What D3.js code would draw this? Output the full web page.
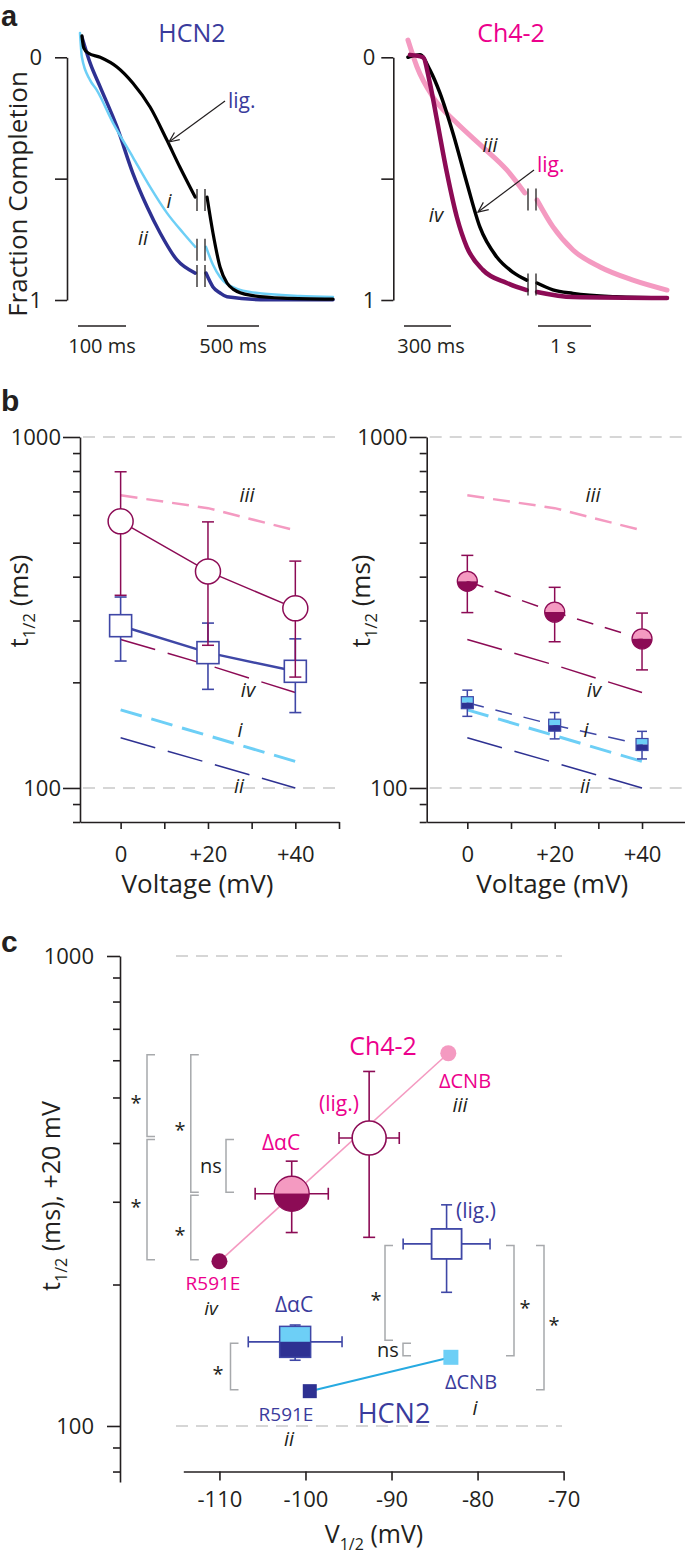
<!DOCTYPE html>
<html><head><meta charset="utf-8">
<script src="https://cdn.jsdelivr.net/npm/d3@7"></script>
<style>body{margin:0;background:#fff}svg{display:block}</style>
</head><body>
<script>
// ================= DATA =================
// Panel a: normalized traces [time (ms), fraction completion]; A = before axis break, B = after break (time since break)
const hcn2LigA = [[4,-0.088],[8,-0.038],[17,-0.018],[42,0.0],[77,0.04],[110,0.106],[146,0.205],[181,0.341],[208,0.452],[240,0.576]];
const hcn2LigB = [[10,0.576],[67,0.724],[135,0.864],[202,0.93],[260,0.955],[423,0.98],[740,0.992],[1221,0.996]];
const hcn2IA = [[0,-0.1],[4,0.0],[21,0.094],[35,0.135],[69,0.271],[110,0.411],[146,0.534],[181,0.641],[215,0.724],[240,0.781]];
const hcn2IB = [[0,0.781],[67,0.855],[135,0.905],[202,0.934],[423,0.967],[904,0.984],[1221,0.988]];
const hcn2IIA = [[4,-0.084],[21,0.023],[42,0.122],[77,0.287],[110,0.477],[140,0.617],[167,0.724],[202,0.835],[240,0.889]];
const hcn2IIB = [[0,0.889],[67,0.946],[135,0.971],[202,0.987],[587,0.999],[1221,0.999]];
const ch42IIIA = [[6,-0.071],[64,0.04],[166,0.164],[318,0.271],[484,0.37],[637,0.464],[752,0.559]];
const ch42IIIB = [[0,0.588],[302,0.699],[679,0.794],[1189,0.864],[1811,0.918],[2453,0.959]];
const ch42LigA = [[6,0.0],[83,-0.01],[146,0.052],[210,0.147],[293,0.312],[382,0.518],[465,0.699],[573,0.823],[675,0.885],[764,0.918]];
const ch42LigB = [[0,0.93],[300,0.958],[679,0.973],[1500,0.987],[2453,0.992]];
const ch42IVA = [[19,-0.01],[102,0.0],[146,0.106],[191,0.258],[255,0.477],[318,0.658],[382,0.782],[484,0.876],[637,0.93],[764,0.959]];
const ch42IVB = [[0,0.967],[679,0.988],[2453,0.992]];

// Panel b: t1/2 (ms) vs voltage (mV), mean and SEM
const voltages = [0, 20, 40];
const ch42LigT = [575, 414, 325], ch42LigSem = [221, 159, 118];
const hcn2LigT = [290, 243, 215], hcn2LigSem = [60, 52, 51];
const ch42DacT = [388, 317, 266], ch42DacSem = [72, 56, 49];
const hcn2DacT = [175, 151, 133], hcn2DacSem = [15, 13, 12];
const refIII = [682, 627, 542];
const refIV = [265, 224, 187];
const refI = [167, 141, 119];
const refII = [139, 118, 100];
const yTicksB = [80, 90, 100, 200, 300, 400, 500, 600, 700, 800, 900, 1000];
const yLabelsB = [100, 1000];
const xTicksB = [0, 10, 20, 30, 40, 50];
const xLabelsB = {0: "0", 20: "+20", 40: "+40"};

// Panel c: t1/2 at +20 mV vs V1/2 ; order: R591E, ΔαC, lig., ΔCNB
const ch42V = [-110.0, -101.6, -92.6, -83.4];
const ch42VSem = [0, 4.25, 3.5, 0];
const ch42T20 = [224, 312, 410, 621];
const ch42T20Sem = [0, 54, 158, 0];
const hcn2V = [-99.5, -101.2, -83.6, -83.1];
const hcn2VSem = [0, 5.45, 5.05, 0];
const hcn2T20 = [118.6, 151, 244, 140];
const hcn2T20Sem = [0, 13, 51.5, 0];
const xTicksC = [-110, -100, -90, -80, -70];
const yTicksC = [80, 90, 100, 200, 300, 400, 500, 600, 700, 800, 900, 1000];
const yLabelsC = [100, 1000];
// significance comparisons: [index a, index b, label]
const ch42Brackets = [[3, 2, "*"], [2, 0, "*"], [3, 1, "*"], [1, 0, "*"], [2, 1, "ns"]];
const hcn2Brackets = [[2, 1, "*"], [1, 3, "ns"], [2, 3, "*"], [2, 0, "*"], [1, 0, "*"]];

// ================= STYLE =================
const FONT = "'Open Sans', 'Noto Sans', sans-serif";
const INK = "#231f20", DBLUE = "#2e3192", LBLUE = "#6dcff6", MAG = "#8c0b55", PINK = "#f49ac1",
      HOT = "#ec008c", GRAY = "#a7a9ac", GRID = "#c9c9c9", CYAN = "#27aae1", TBLUE = "#3a3b9c", LINEBLUE = "#3f47a6";

const svg = d3.select("body").append("svg").attr("width", 685).attr("height", 1554);

function txt(x, y, s, o = {}) {
  const t = svg.append("text").attr("x", x).attr("y", y).text(s)
    .attr("font-family", o.family || FONT).attr("font-size", o.size || 20)
    .attr("fill", o.color || INK).attr("text-anchor", o.anchor || "middle");
  if (o.italic) t.attr("font-style", "italic");
  if (o.weight) t.attr("font-weight", o.weight);
  return t;
}
function subTitle(x, y, parts, size, rotate) {
  const g = svg.append("g").attr("transform", `translate(${x},${y})` + (rotate ? " rotate(-90)" : ""));
  const t = g.append("text").attr("text-anchor", "middle").attr("font-family", FONT)
    .attr("font-size", size).attr("fill", INK);
  let shift = 0;
  parts.forEach(p => {
    const sp = t.append("tspan").text(p.t);
    if (p.sub) { sp.attr("font-size", size * 0.64).attr("dy", size * 0.26); shift = size * 0.26; }
    else if (shift) { sp.attr("dy", -shift); shift = 0; }
  });
}
function line(x1, y1, x2, y2, color, w, dash) {
  const l = svg.append("line").attr("x1", x1).attr("y1", y1).attr("x2", x2).attr("y2", y2)
    .attr("stroke", color).attr("stroke-width", w);
  if (dash) l.attr("stroke-dasharray", dash);
  return l;
}
function styleAxis(g, size) {
  g.attr("font-family", FONT).attr("font-size", size);
  g.selectAll("path, line").attr("stroke", INK).attr("stroke-width", 1.6);
  g.selectAll("text").attr("fill", INK);
}

// ================= PANEL a =================
txt(1, 26, "a", {family: "'Liberation Sans', Arial, sans-serif", size: 29, weight: "bold", anchor: "start"});
const yA = d3.scaleLinear().domain([0, 1]).range([57.3, 300]);
const xAL1 = d3.scaleLinear().domain([0, 100]).range([80, 128]);
const xAL2 = d3.scaleLinear().domain([0, 500]).range([206, 258]);
const xAR1 = d3.scaleLinear().domain([0, 300]).range([407, 454]);
const xAR2 = d3.scaleLinear().domain([0, 1000]).range([537, 590]);

function yAxisA(x, pad) {
  const g = svg.append("g").attr("transform", `translate(${x},0)`)
    .call(d3.axisLeft(yA).tickValues([0, 0.5, 1]).tickSize(12).tickSizeOuter(0).tickPadding(pad)
      .tickFormat(d => d === 0.5 ? "" : d));
  styleAxis(g, 22);
}
yAxisA(67, 13);
yAxisA(393.3, 6);
subTitle(27, 194, [{t: "Fraction Completion"}], 26, true);

function drawTrace(data, xs, color, w) {
  svg.append("path").datum(data)
    .attr("d", d3.line().x(d => xs(d[0])).y(d => yA(d[1])).curve(d3.curveMonotoneX))
    .attr("fill", "none").attr("stroke", color).attr("stroke-width", w)
    .attr("stroke-linecap", "round").attr("stroke-linejoin", "round");
}
function breakMarks(xa, xb, A, B) {
  const yc = (yA(A[A.length - 1][1]) + yA(B[0][1])) / 2 + 3;
  line(xa, yc - 11, xa, yc + 11, INK, 1.3);
  line(xb, yc - 11, xb, yc + 11, INK, 1.3);
}
// left traces (HCN2)
drawTrace(hcn2IIA, xAL1, DBLUE, 3.5); drawTrace(hcn2IIB, xAL2, DBLUE, 3.5);
drawTrace(hcn2IA, xAL1, LBLUE, 2.5); drawTrace(hcn2IB, xAL2, LBLUE, 2.5);
drawTrace(hcn2LigA, xAL1, "#000", 3.2); drawTrace(hcn2LigB, xAL2, "#000", 3.2);
breakMarks(197, 205, hcn2LigA, hcn2LigB);
breakMarks(197, 205, hcn2IA, hcn2IB);
breakMarks(197, 205, hcn2IIA, hcn2IIB);
// right traces (Ch4-2)
drawTrace(ch42IIIA, xAR1, PINK, 5); drawTrace(ch42IIIB, xAR2, PINK, 5);
drawTrace(ch42LigA, xAR1, "#000", 3.5); drawTrace(ch42LigB, xAR2, "#000", 3.5);
drawTrace(ch42IVA, xAR1, MAG, 4.5); drawTrace(ch42IVB, xAR2, MAG, 4.5);
breakMarks(528, 536, ch42IIIA, ch42IIIB);
breakMarks(528, 536, ch42LigA, ch42LigB);

function arrow(x1, y1, x2, y2) {
  line(x1, y1, x2, y2, INK, 1.2);
  const a = Math.atan2(y2 - y1, x2 - x1), L = 11, s = 0.42;
  const p = [[x2 - L * Math.cos(a - s), y2 - L * Math.sin(a - s)], [x2, y2], [x2 - L * Math.cos(a + s), y2 - L * Math.sin(a + s)]];
  svg.append("path").attr("d", d3.line()(p)).attr("fill", "none").attr("stroke", INK).attr("stroke-width", 1.2);
}
arrow(225, 101, 169, 142);
arrow(534, 170, 478, 212);
txt(192, 42, "HCN2", {size: 25, color: TBLUE});
txt(511, 42, "Ch4-2", {size: 25, color: HOT});
txt(228, 108, "lig.", {size: 21, color: TBLUE, anchor: "start"});
txt(537, 172, "lig.", {size: 21, color: HOT, anchor: "start"});
txt(169, 208, "i", {size: 20, italic: true});
txt(143, 245, "ii", {size: 20, italic: true});
txt(490, 152, "iii", {size: 20, italic: true});
txt(436, 222, "iv", {size: 20, italic: true});
// scale bars
function scaleBar(x0, xs, val, label, lx) {
  line(x0, 326, x0 + xs(val) - xs(0), 326, INK, 1.5);
  txt(lx, 353, label, {size: 20});
}
scaleBar(78, xAL1, 100, "100 ms", 102);
scaleBar(207, xAL2, 500, "500 ms", 233);
scaleBar(404, xAR1, 300, "300 ms", 431);
scaleBar(538, xAR2, 1000, "1 s", 563);

// ================= PANEL b =================
txt(1, 411, "b", {family: "'Liberation Sans', Arial, sans-serif", size: 30, weight: "bold", anchor: "start"});
const yB = d3.scaleLog().domain([80, 1000]).range([822, 437]);
const xBL = d3.scaleLinear().domain([-9.3, 50]).range([80, 339]);
const xBR = d3.scaleLinear().domain([-9.3, 50]).range([426.7, 685.7]);

function panelBAxes(xs) {
  const x0 = xs.range()[0];
  yLabelsB.forEach(v => line(x0 + 3, yB(v), x0 + 260, yB(v), GRID, 1.3, "12,8"));
  const gy = svg.append("g").attr("transform", `translate(${x0},0)`)
    .call(d3.axisLeft(yB).tickValues(yTicksB).tickSize(17).tickSizeOuter(0).tickPadding(2)
      .tickFormat(d => yLabelsB.includes(d) ? d : ""));
  gy.selectAll(".tick line").attr("x2", d => yLabelsB.includes(d) ? -17 : -7);
  styleAxis(gy, 22);
  const gx = svg.append("g").attr("transform", `translate(0,${yB.range()[0]})`)
    .call(d3.axisBottom(xs).tickValues(xTicksB).tickSize(7).tickSizeOuter(0).tickPadding(17)
      .tickFormat(d => xLabelsB[d] || ""));
  styleAxis(gx, 22);
  txt((xs(-9.3) + xs(50)) / 2 - 12 + (x0 > 200 ? 8 : 0), 893, "Voltage (mV)", {size: 26});
}
panelBAxes(xBL);
panelBAxes(xBR);
subTitle(28, 601, [{t: "t"}, {t: "1/2", sub: true}, {t: " (ms)"}], 26, true);
subTitle(370, 601, [{t: "t"}, {t: "1/2", sub: true}, {t: " (ms)"}], 26, true);

function dashSeries(xs, vals, color, w, dash) {
  svg.append("path").datum(vals)
    .attr("d", d3.line().x((d, i) => xs(voltages[i])).y(d => yB(d)))
    .attr("fill", "none").attr("stroke", color).attr("stroke-width", w).attr("stroke-dasharray", dash);
}
function refLines(xs) {
  dashSeries(xs, refIII, PINK, 2.5, "17,9");
  dashSeries(xs, refIV, MAG, 1.5, "36,13");
  dashSeries(xs, refI, LBLUE, 3, "22,10");
  dashSeries(xs, refII, DBLUE, 1.5, "36,13");
}
refLines(xBL);
refLines(xBR);
function errBars(xs, vals, sems, color, w, cap) {
  vals.forEach((v, i) => {
    const x = xs(voltages[i]);
    line(x, yB(v + sems[i]), x, yB(v - sems[i]), color, w);
    line(x - cap / 2, yB(v + sems[i]), x + cap / 2, yB(v + sems[i]), color, w);
    line(x - cap / 2, yB(v - sems[i]), x + cap / 2, yB(v - sems[i]), color, w);
  });
}
// left: lig. data
errBars(xBL, hcn2LigT, hcn2LigSem, LINEBLUE, 1.6, 12);
svg.append("path").datum(hcn2LigT).attr("d", d3.line().x((d, i) => xBL(voltages[i])).y(d => yB(d)))
  .attr("fill", "none").attr("stroke", LINEBLUE).attr("stroke-width", 2.5);
hcn2LigT.forEach((v, i) => svg.append("rect").attr("x", xBL(voltages[i]) - 11).attr("y", yB(v) - 11)
  .attr("width", 22).attr("height", 22).attr("fill", "#fff").attr("stroke", LINEBLUE).attr("stroke-width", 1.6));
errBars(xBL, ch42LigT, ch42LigSem, MAG, 1.5, 12);
svg.append("path").datum(ch42LigT).attr("d", d3.line().x((d, i) => xBL(voltages[i])).y(d => yB(d)))
  .attr("fill", "none").attr("stroke", MAG).attr("stroke-width", 1.5);
ch42LigT.forEach((v, i) => svg.append("circle").attr("cx", xBL(voltages[i])).attr("cy", yB(v)).attr("r", 12.5)
  .attr("fill", "#fff").attr("stroke", MAG).attr("stroke-width", 1.5));

// right: ΔαC data
dashSeries(xBR, hcn2DacT, LINEBLUE, 1.5, "17,12");
errBars(xBR, hcn2DacT, hcn2DacSem, LINEBLUE, 1.5, 10);
hcn2DacT.forEach((v, i) => {
  const x = xBR(voltages[i]), y = yB(v);
  svg.append("rect").attr("x", x - 6).attr("y", y - 6).attr("width", 12).attr("height", 6).attr("fill", LBLUE);
  svg.append("rect").attr("x", x - 6).attr("y", y).attr("width", 12).attr("height", 6).attr("fill", DBLUE);
  svg.append("rect").attr("x", x - 6).attr("y", y - 6).attr("width", 12).attr("height", 12).attr("fill", "none").attr("stroke", LINEBLUE).attr("stroke-width", 1.2);
});
dashSeries(xBR, ch42DacT, MAG, 1.5, "17,12");
errBars(xBR, ch42DacT, ch42DacSem, MAG, 1.5, 12);
const halfTop = d3.arc().innerRadius(0).startAngle(-Math.PI / 2).endAngle(Math.PI / 2);
const halfBot = d3.arc().innerRadius(0).startAngle(Math.PI / 2).endAngle(3 * Math.PI / 2);
function halfCircle(x, y, r) {
  svg.append("path").attr("d", halfTop.outerRadius(r)()).attr("transform", `translate(${x},${y})`).attr("fill", PINK);
  svg.append("path").attr("d", halfBot.outerRadius(r)()).attr("transform", `translate(${x},${y})`).attr("fill", MAG);
  svg.append("circle").attr("cx", x).attr("cy", y).attr("r", r).attr("fill", "none").attr("stroke", MAG).attr("stroke-width", 1.3);
}
ch42DacT.forEach((v, i) => halfCircle(xBR(voltages[i]), yB(v), 10));

[[0, "iii", 502], [1, "iv", 697], [2, "i", 737], [3, "ii", 793]].forEach(([k, s, y]) => {
  const dx = [247, 248, 240, 239][k];
  txt(dx, y, s, {size: 20, italic: true});
  txt(dx + 346, y, s, {size: 20, italic: true});
});

// ================= PANEL c =================
txt(1, 952, "c", {family: "'Liberation Sans', Arial, sans-serif", size: 30, weight: "bold", anchor: "start"});
const yC = d3.scaleLog().domain([76, 1000]).range([1482, 956]);
const xC = d3.scaleLinear().domain([-114.2, -70]).range([183.3, 563.6]);
yLabelsC.forEach(v => line(176, yC(v), 562, yC(v), GRID, 1.3, "12,8"));
const gyc = svg.append("g").attr("transform", "translate(120,0)")
  .call(d3.axisLeft(yC).tickValues(yTicksC).tickSize(13).tickSizeOuter(0).tickPadding(13)
    .tickFormat(d => yLabelsC.includes(d) ? d : ""));
gyc.selectAll(".tick line").attr("x2", d => yLabelsC.includes(d) ? -13 : -7);
styleAxis(gyc, 22);
const gxc = svg.append("g").attr("transform", `translate(0,${yC(80)})`)
  .call(d3.axisBottom(xC).tickValues(xTicksC).tickSize(9).tickSizeOuter(0).tickPadding(11)
    .tickFormat(d => "-" + Math.abs(d)));
styleAxis(gxc, 22);
subTitle(60, 1196, [{t: "t"}, {t: "1/2", sub: true}, {t: " (ms),  +20 mV"}], 25, true);
subTitle(374, 1543, [{t: "V"}, {t: "1/2", sub: true}, {t: " (mV)"}], 25, false);

// significance brackets
function bracket(Ts, a, b, x, dir, label, lx) {
  const y1 = yC(Ts[a]), y2 = yC(Ts[b]);
  const top = Math.min(y1, y2) + 1.5, bot = Math.max(y1, y2) - 1.5;
  svg.append("path").attr("d", `M${x + dir * 8},${top}H${x}V${bot}H${x + dir * 8}`)
    .attr("fill", "none").attr("stroke", GRAY).attr("stroke-width", 1.5);
  const mid = (top + bot) / 2;
  if (label === "*") txt(lx, mid + 14, "*", {size: 20});
  else txt(lx, mid + 7, label, {size: 20});
}
const ch42BrX = [147, 147, 190.8, 190.8, 226];
const ch42BrLX = [136, 136, 180, 180, 211];
ch42Brackets.forEach((b, i) => bracket(ch42T20, b[0], b[1], ch42BrX[i], 1, b[2], ch42BrLX[i]));
const hcn2BrX = [385, 403, 514, 544, 230.5];
const hcn2BrDir = [1, 1, -1, -1, 1];
const hcn2BrLX = [376, 388, 525, 554, 218];
hcn2Brackets.forEach((b, i) => bracket(hcn2T20, b[0], b[1], hcn2BrX[i], hcn2BrDir[i], b[2], hcn2BrLX[i]));

// connecting lines
svg.append("line").attr("x1", xC(ch42V[0])).attr("y1", yC(ch42T20[0])).attr("x2", xC(ch42V[3])).attr("y2", yC(ch42T20[3]))
  .attr("stroke", PINK).attr("stroke-width", 1.6);
svg.append("line").attr("x1", xC(hcn2V[0])).attr("y1", yC(hcn2T20[0])).attr("x2", xC(hcn2V[3])).attr("y2", yC(hcn2T20[3]))
  .attr("stroke", CYAN).attr("stroke-width", 2);

function errC(V, VS, T, TS, i, color, w, cap) {
  const x = xC(V[i]), y = yC(T[i]);
  if (TS[i]) {
    const yt = yC(T[i] + TS[i]), yb = yC(T[i] - TS[i]);
    line(x, yt, x, yb, color, w); line(x - cap / 2, yt, x + cap / 2, yt, color, w); line(x - cap / 2, yb, x + cap / 2, yb, color, w);
  }
  if (VS[i]) {
    const xl = xC(V[i] - VS[i]), xr = xC(V[i] + VS[i]);
    line(xl, y, xr, y, color, w); line(xl, y - cap / 2, xl, y + cap / 2, color, w); line(xr, y - cap / 2, xr, y + cap / 2, color, w);
  }
}
// HCN2 points
[1, 2].forEach(i => errC(hcn2V, hcn2VSem, hcn2T20, hcn2T20Sem, i, LINEBLUE, 1.6, 11));
(function () {
  const x = xC(hcn2V[0]), y = yC(hcn2T20[0]);
  svg.append("rect").attr("x", x - 7).attr("y", y - 7).attr("width", 14).attr("height", 14).attr("fill", DBLUE);
  const x3 = xC(hcn2V[3]), y3 = yC(hcn2T20[3]);
  svg.append("rect").attr("x", x3 - 7.5).attr("y", y3 - 7.5).attr("width", 15).attr("height", 15).attr("fill", LBLUE);
  const x1 = xC(hcn2V[1]), y1 = yC(hcn2T20[1]);
  svg.append("rect").attr("x", x1 - 15.5).attr("y", y1 - 15.5).attr("width", 31).attr("height", 15.5).attr("fill", LBLUE);
  svg.append("rect").attr("x", x1 - 15.5).attr("y", y1).attr("width", 31).attr("height", 15.5).attr("fill", DBLUE);
  svg.append("rect").attr("x", x1 - 15.5).attr("y", y1 - 15.5).attr("width", 31).attr("height", 31).attr("fill", "none").attr("stroke", LINEBLUE).attr("stroke-width", 1.5);
  const x2 = xC(hcn2V[2]), y2 = yC(hcn2T20[2]);
  svg.append("rect").attr("x", x2 - 15).attr("y", y2 - 15).attr("width", 30).attr("height", 30).attr("fill", "#fff").attr("stroke", LINEBLUE).attr("stroke-width", 1.8);
})();
// Ch4-2 points
[1, 2].forEach(i => errC(ch42V, ch42VSem, ch42T20, ch42T20Sem, i, MAG, 1.6, 12));
svg.append("circle").attr("cx", xC(ch42V[0])).attr("cy", yC(ch42T20[0])).attr("r", 8).attr("fill", MAG);
svg.append("circle").attr("cx", xC(ch42V[3])).attr("cy", yC(ch42T20[3])).attr("r", 8).attr("fill", PINK);
halfCircle(xC(ch42V[1]), yC(ch42T20[1]), 17.5);
svg.append("circle").attr("cx", xC(ch42V[2])).attr("cy", yC(ch42T20[2])).attr("r", 17)
  .attr("fill", "#fff").attr("stroke", MAG).attr("stroke-width", 1.6);

// labels c
txt(383, 1055, "Ch4-2", {size: 25, color: HOT});
txt(465, 1088, "ΔCNB", {size: 20, color: HOT});
txt(460, 1112, "iii", {size: 20, italic: true});
txt(339, 1111, "(lig.)", {size: 21, color: HOT});
txt(281, 1150, "ΔαC", {size: 21, color: HOT});
txt(213, 1290, "R591E", {size: 19, color: HOT});
txt(211, 1315, "iv", {size: 19, italic: true});
txt(294, 1312, "ΔαC", {size: 21, color: TBLUE});
txt(476, 1218, "(lig.)", {size: 21, color: TBLUE});
txt(471, 1389, "ΔCNB", {size: 20, color: TBLUE});
txt(475, 1415, "i", {size: 20, italic: true});
txt(286, 1421, "R591E", {size: 19, color: TBLUE});
txt(289, 1446, "ii", {size: 20, italic: true});
txt(394, 1423, "HCN2", {size: 27, color: TBLUE});
</script>
</body></html>
